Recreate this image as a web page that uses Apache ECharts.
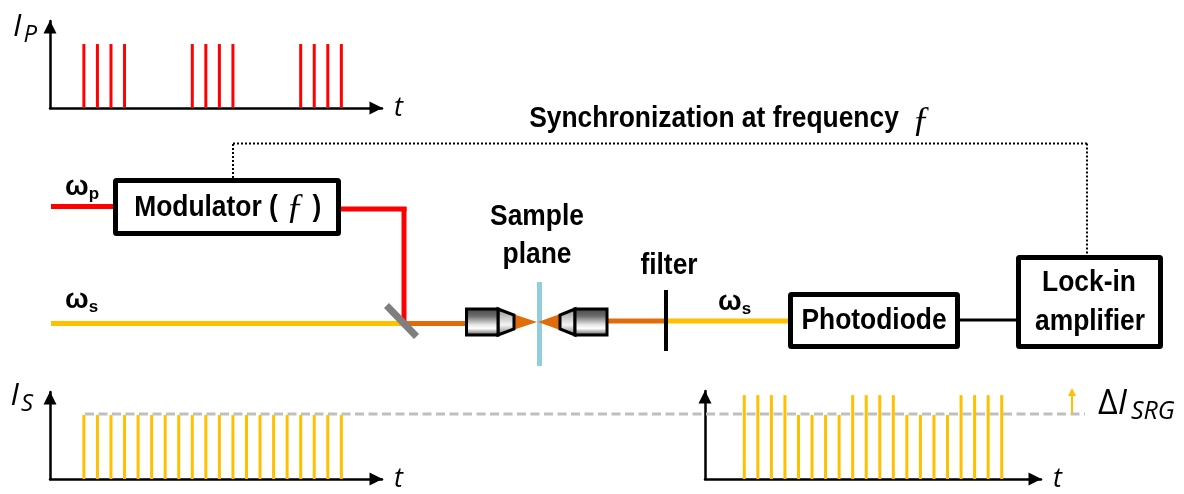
<!DOCTYPE html>
<html>
<head>
<meta charset="utf-8">
<style>
  html, body { margin: 0; padding: 0; background: #fff; }
  #chart { width: 1184px; height: 494px; }
</style>
<script src="https://cdn.jsdelivr.net/npm/echarts@6/dist/echarts.min.js"></script>
</head>
<body>
<div id="chart"></div>
<script>
// pulse slots along t, same for all three traces
var pulseSlots = [0, 1, 2, 3, 4, 5, 6, 7, 8, 9, 10, 11, 12, 13, 14, 15, 16, 17, 18, 19];
var pumpIntensity = [1, 1, 1, 1, 0, 0, 0, 0, 1, 1, 1, 1, 0, 0, 0, 0, 1, 1, 1, 1];
var stokesIntensity = [1, 1, 1, 1, 1, 1, 1, 1, 1, 1, 1, 1, 1, 1, 1, 1, 1, 1, 1, 1];
var stokesAfterSample = [1.31, 1.31, 1.31, 1.31, 1, 1, 1, 1, 1.31, 1.31, 1.31, 1.31, 1, 1, 1, 1, 1.31, 1.31, 1.31, 1.31];

var RED = '#ff0000', YELLOW = '#ffc000', ORANGE = '#e36c0a', GREY = '#bfbfbf';
var boldFont = '"Liberation Sans", Arial, sans-serif';
var italicFont = '"Open Sans", sans-serif';

var chart = echarts.init(document.getElementById('chart'), null, { renderer: 'canvas' });

function pairs(values) {
  return pulseSlots.map(function(s, i) { return [s, values[i]]; });
}

var arrowLine = { onZero: false, symbol: ['none', 'triangle'], symbolSize: [13, 13], symbolOffset: [0, -6], lineStyle: { color: '#000', width: 2.5 } };

function xAxisFor(idx, min, max) {
  return {
    gridIndex: idx, type: 'value', min: min, max: max,
    name: 't', nameLocation: 'end', nameGap: 12,
    nameTextStyle: { fontFamily: italicFont, fontStyle: 'italic', fontSize: 27, color: '#000', verticalAlign: 'middle', padding: [4, 0, 0, 0] },
    axisLine: arrowLine,
    axisTick: { show: false }, axisLabel: { show: false }, splitLine: { show: false }
  };
}

function yAxisFor(idx, max, name, rightPad, gap) {
  return {
    gridIndex: idx, type: 'value', min: 0, max: max,
    name: name, nameLocation: 'end', nameGap: gap,
    nameTextStyle: {
      align: 'right', verticalAlign: 'top', padding: [0, rightPad, 0, 0],
      rich: {
        i: { fontFamily: italicFont, fontStyle: 'italic', fontSize: 31, color: '#000' },
        s: { fontFamily: italicFont, fontStyle: 'italic', fontSize: 24, color: '#000', padding: [16, 0, 0, 2] }
      }
    },
    axisLine: arrowLine,
    axisTick: { show: false }, axisLabel: { show: false }, splitLine: { show: false }
  };
}

function pulses(idx, values, color) {
  return {
    type: 'bar', xAxisIndex: idx, yAxisIndex: idx, barWidth: 3, z: 3,
    itemStyle: { color: color }, silent: true, data: pairs(values)
  };
}

// schematic helpers
function seg(x1, y1, x2, y2, color, width, dash, z) {
  return {
    type: 'line', z: z || 5,
    shape: { x1: x1, y1: y1, x2: x2, y2: y2 },
    style: { stroke: color, lineWidth: width, lineDash: dash || null }
  };
}

function box(x1, y1, x2, y2) {
  return {
    type: 'rect', z: 6,
    shape: { x: x1 + 2.5, y: y1 + 2.5, width: x2 - x1 - 5, height: y2 - y1 - 5, r: 1 },
    style: { fill: '#fff', stroke: '#000', lineWidth: 5 }
  };
}

function label(text, cx, cy) {
  return {
    type: 'text', z: 8, x: cx, y: cy, scaleX: 0.88,
    style: { text: text, font: 'bold 30px ' + boldFont, fill: '#000', align: 'center', verticalAlign: 'middle' }
  };
}

function omega(sub, x, y) {
  return {
    type: 'text', z: 8, x: x, y: y,
    style: {
      text: '{a|ω}{b|' + sub + '}', align: 'left', verticalAlign: 'middle',
      rich: {
        a: { font: 'bold 28px ' + boldFont, fill: '#000' },
        b: { font: 'bold 17px ' + boldFont, fill: '#000', padding: [14, 0, 0, 0] }
      }
    }
  };
}

function scriptF(x, y, size) {
  return {
    type: 'text', z: 8, x: x, y: y,
    style: { text: 'ƒ', font: 'italic ' + size + 'px "Liberation Serif", serif', fill: '#000', align: 'center', verticalAlign: 'middle' }
  };
}

var barrel = {
  type: 'linear', x: 0, y: 0, x2: 0, y2: 1,
  colorStops: [
    { offset: 0, color: '#404040' }, { offset: 0.3, color: '#6e6e6e' }, { offset: 0.6, color: '#e8e8e8' },
    { offset: 0.72, color: '#ffffff' }, { offset: 1, color: '#3a3a3a' }
  ]
};
var nose = {
  type: 'linear', x: 0, y: 0, x2: 0, y2: 1,
  colorStops: [
    { offset: 0, color: '#8c8c8c' }, { offset: 0.6, color: '#f5f5f5' }, { offset: 1, color: '#6e6e6e' }
  ]
};

function poly(points, fill, stroke) {
  return {
    type: 'polygon', z: 6, shape: { points: points },
    style: { fill: fill, stroke: stroke || null, lineWidth: stroke ? 3 : 0 }
  };
}

var schematic = [
  // beams
  seg(51, 206.5, 114, 206.5, RED, 5),
  seg(341, 209, 406.5, 209, RED, 5),
  seg(404, 207, 404, 322, RED, 5),
  seg(51, 323.5, 404, 323.5, YELLOW, 5),
  seg(404, 323.5, 466, 323.5, ORANGE, 5),
  seg(608, 321, 666, 321, ORANGE, 5),
  seg(667, 321, 790, 321, YELLOW, 5),
  seg(960, 320, 1018, 320, '#000', 3),
  seg(386.5, 305.5, 416.5, 336.5, '#7f7f7f', 7),

  // synchronisation link
  seg(233, 178, 233, 143.5, '#000', 2, [2, 2]),
  seg(233, 143.5, 1087, 143.5, '#000', 2, [2, 2]),
  seg(1087, 143.5, 1087, 256, '#000', 2, [2, 2]),

  // objectives and sample plane
  poly([[513, 314], [513, 330], [537, 322]], ORANGE),
  poly([[560, 314], [560, 330], [538, 322]], ORANGE),
  seg(539.5, 282, 539.5, 366, '#92cddc', 5),
  poly([[498, 309], [514, 315], [514, 329], [498, 335]], nose, '#000'),
  poly([[466.5, 309], [498, 309], [498, 335], [466.5, 335]], barrel, '#000'),
  poly([[575, 309], [560, 315], [560, 329], [575, 335]], nose, '#000'),
  poly([[575, 309], [607, 309], [607, 335], [575, 335]], barrel, '#000'),
  seg(666, 290, 666, 351, '#000', 4),

  // boxes
  box(113, 178, 341, 236),
  box(788, 292, 960, 349),
  box(1016, 255, 1163, 349),

  // text
  label('Modulator (', 206, 208),
  scriptF(295, 209, 36),
  label(')', 317, 208),
  label('Photodiode', 874, 321),
  label('Lock-in', 1089, 283),
  label('amplifier', 1090, 322),
  label('Sample', 537, 217),
  label('plane', 537, 255),
  label('filter', 669, 266),
  label('Synchronization at frequency', 714, 119),
  scriptF(921, 122, 36),
  omega('p', 65, 187),
  omega('s', 65, 300),
  omega('s', 718, 302),

  // gain level and its marker
  seg(85, 414, 1085, 414, GREY, 3, [9, 4.5], 1),
  seg(1072, 413, 1072, 396, YELLOW, 2),
  poly([[1072, 388], [1068, 396], [1076, 396]], YELLOW),
  {
    type: 'text', z: 8, x: 1098, y: 404,
    style: {
      text: '{a|Δ}{b|I}{c|SRG}', align: 'left', verticalAlign: 'middle',
      rich: {
        a: { font: '34px ' + italicFont, fill: '#000' },
        b: { font: 'italic 34px ' + italicFont, fill: '#000' },
        c: { font: 'italic 25px ' + italicFont, fill: '#000', padding: [16, 0, 0, 4] }
      }
    }
  }
];

chart.setOption({
  animation: false,
  backgroundColor: '#fff',
  grid: [
    { left: 50, top: 21, width: 332, height: 87 },
    { left: 50, top: 392, width: 332, height: 87 },
    { left: 705, top: 391, width: 336, height: 88 }
  ],
  xAxis: [xAxisFor(0, -2.5, 22), xAxisFor(1, -2.5, 22), xAxisFor(2, -2.9, 21.9)],
  yAxis: [yAxisFor(0, 1.36, '{i|I}{s|P}', 13, 14), yAxisFor(1, 1.36, '{i|I}{s|S}', 17, 16),
    { gridIndex: 2, type: 'value', min: 0, max: 1.375,
      axisLine: arrowLine,
      axisTick: { show: false }, axisLabel: { show: false }, splitLine: { show: false } }],
  series: [
    pulses(0, pumpIntensity, RED),
    pulses(1, stokesIntensity, YELLOW),
    pulses(2, stokesAfterSample, YELLOW)
  ],
  graphic: { elements: schematic }
});
window.addEventListener('resize', function() { chart.resize(); });
</script>
</body>
</html>
